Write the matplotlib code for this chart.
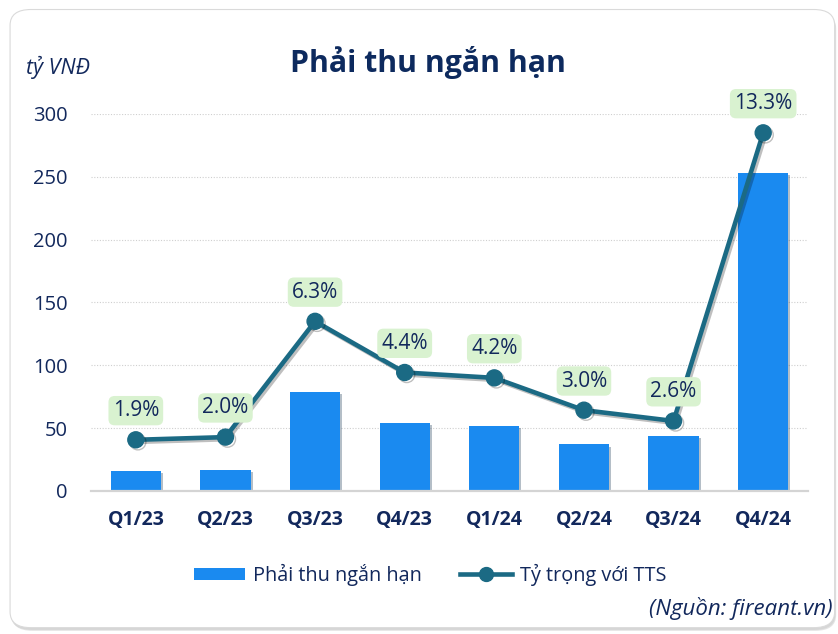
import matplotlib
matplotlib.use("Agg")
import matplotlib.pyplot as plt
import matplotlib.patheffects as pe
from matplotlib.patches import FancyBboxPatch, Patch
from matplotlib.lines import Line2D

# data
quarters = ["Q1/23", "Q2/23", "Q3/23", "Q4/23", "Q1/24", "Q2/24", "Q3/24", "Q4/24"]
receivables = [16, 17, 79, 54, 52, 37, 44, 253]          # tỷ VNĐ
share_pct = [1.9, 2.0, 6.3, 4.4, 4.2, 3.0, 2.6, 13.3]    # % of total assets
y_ticks = [0, 50, 100, 150, 200, 250, 300]

NAVY = "#12285C"
BAR = "#1A8AF0"
LINE = "#1B6A84"
LABEL_BG = "#D9F2D0"
FONT = ["Open Sans", "DejaVu Sans"]

plt.rcParams["font.family"] = FONT

fig = plt.figure(figsize=(8.38, 6.34), dpi=100)
fig.patch.set_facecolor("white")

# card with a soft shadow
for off, col in [(0.006, "#E4E4E4"), (0.003, "#D6D6D6")]:
    fig.patches.append(FancyBboxPatch((0.012 + off * 0.3, 0.008 - off * 0.5), 0.984, 0.975,
                                      boxstyle="round,pad=0,rounding_size=0.025",
                                      transform=fig.transFigure, facecolor=col,
                                      edgecolor="none", zorder=-3))
fig.patches.append(FancyBboxPatch((0.012, 0.01), 0.984, 0.975,
                                  boxstyle="round,pad=0,rounding_size=0.025",
                                  transform=fig.transFigure, facecolor="white",
                                  edgecolor="#DADADA", linewidth=0.8, zorder=-2))

ax = fig.add_axes([0.1086, 0.2256, 0.8556, 0.5946])
ax.set_facecolor("none")
x = list(range(len(quarters)))

shadow_bar = [pe.SimplePatchShadow(offset=(1.5, -1.5), alpha=0.3), pe.Normal()]
ax.bar(x, receivables, width=0.56, color=BAR, zorder=2, path_effects=shadow_bar)

ax.set_xlim(-0.5, 7.5)
ax.set_ylim(0, 300)
ax.set_yticks(y_ticks)
ax.set_yticklabels([str(v) for v in y_ticks], fontsize=14.5, color=NAVY)
ax.set_xticks(x)
ax.set_xticklabels(quarters, fontsize=14, fontweight="bold", color=NAVY)
ax.tick_params(axis="both", length=0)
ax.tick_params(axis="y", pad=17)
ax.tick_params(axis="x", pad=14)
for g in y_ticks[1:]:
    ax.axhline(g, color="#CFCFCF", linestyle=(0, (1, 1.5)), linewidth=0.8, zorder=1)
for s in ["top", "right", "left"]:
    ax.spines[s].set_visible(False)
ax.spines["bottom"].set_color("#D4D4D4")
ax.spines["bottom"].set_linewidth(1.6)

ax2 = ax.twinx()
ax2.set_ylim(0, 14)
ax2.set_yticks([])
for s in ax2.spines.values():
    s.set_visible(False)
shadow_line = [pe.SimpleLineShadow(offset=(1.5, -1.5), alpha=0.25), pe.Normal()]
ax2.plot(x, share_pct, color=LINE, linewidth=3.3, marker="o", markersize=11.5,
         zorder=4, path_effects=shadow_line)
for xi, v in zip(x, share_pct):
    ax2.annotate(f"{v:.1f}%", (xi, v), xytext=(0, 21), textcoords="offset points",
                 ha="center", va="center", fontsize=15, color=NAVY,
                 bbox=dict(boxstyle="round,pad=0.2,rounding_size=0.3",
                           facecolor=LABEL_BG, edgecolor="none"), zorder=5)

fig.text(0.511, 0.902, "Phải thu ngắn hạn", ha="center", va="center",
         fontsize=21.8, fontweight="bold", color="#0D2A5E")
fig.text(0.031, 0.893, "tỷ VNĐ", ha="left", va="center", fontsize=15.5,
         style="italic", color=NAVY)
fig.text(0.993, 0.040, "(Nguồn: fireant.vn)", ha="right", va="center",
         fontsize=16, style="italic", color=NAVY)

handles = [Patch(facecolor=BAR, edgecolor="none", label="Phải thu ngắn hạn"),
           Line2D([0], [0], color=LINE, linewidth=3.3, marker="o", markersize=10,
                  label="Tỷ trọng với TTS")]
fig.legend(handles=handles, loc="center", bbox_to_anchor=(0.513, 0.093), ncol=2,
           frameon=False, fontsize=14.3, handlelength=2.6, handleheight=0.6,
           columnspacing=1.9, handletextpad=0.4, labelcolor=NAVY)

fig.savefig("out.png", dpi=100, facecolor="white")
